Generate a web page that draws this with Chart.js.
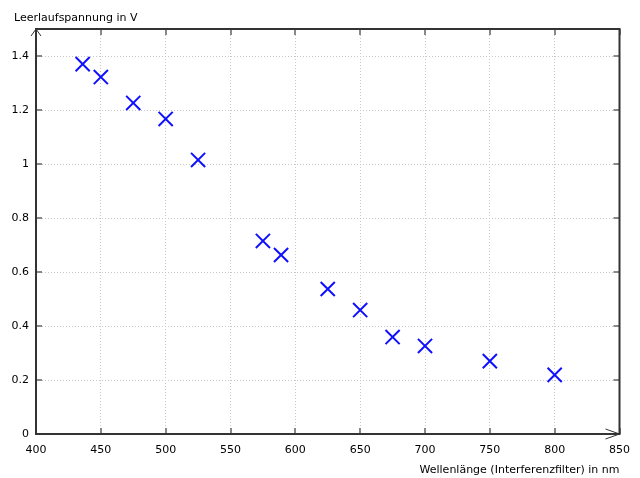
<!DOCTYPE html>
<html>
<head>
<meta charset="utf-8">
<script src="https://cdn.jsdelivr.net/npm/chart.js@4/dist/chart.umd.min.js"></script>
<style>
  html, body { margin: 0; padding: 0; background: #fff; }
  #wrap { width: 640px; height: 478px; }
</style>
</head>
<body>
<div id="wrap"><canvas id="chart"></canvas></div>
<script>
// Wellenlaenge in nm und Leerlaufspannung in V
var wavelengths = [436, 450, 475, 500, 525, 575, 589, 625, 650, 675, 700, 750, 800];
var voltages = [1.37, 1.322, 1.226, 1.167, 1.015, 0.715, 0.663, 0.537, 0.459, 0.359, 0.326, 0.27, 0.219];

var xTitle = 'Wellenlänge (Interferenzfilter) in nm';
var yTitle = 'Leerlaufspannung in V';

var points = [];
for (var i = 0; i < wavelengths.length; i++) {
	points.push({ x: wavelengths[i], y: voltages[i] });
}

var fontFamily = '"DejaVu Sans", sans-serif';

var frame = {
	id: 'frame',
	afterDraw: function(chart) {
		var ctx = chart.ctx;
		var a = chart.chartArea;
		var xs = chart.scales.x, ys = chart.scales.y;
		ctx.save();
		// tick marks inside the frame
		ctx.strokeStyle = '#888';
		ctx.lineWidth = 2;
		xs.ticks.forEach(function(t) {
			var px = Math.round(xs.getPixelForValue(t.value));
			ctx.beginPath();
			ctx.moveTo(px, a.bottom); ctx.lineTo(px, a.bottom - 6);
			ctx.moveTo(px, a.top); ctx.lineTo(px, a.top + 6);
			ctx.stroke();
		});
		ys.ticks.forEach(function(t) {
			var py = Math.round(ys.getPixelForValue(t.value));
			ctx.beginPath();
			ctx.moveTo(a.left, py); ctx.lineTo(a.left + 6, py);
			ctx.moveTo(a.right, py); ctx.lineTo(a.right - 6, py);
			ctx.stroke();
		});
		// frame
		ctx.strokeStyle = '#333';
		ctx.lineWidth = 2;
		ctx.strokeRect(a.left, a.top, a.right - a.left, a.bottom - a.top);
		// arrows
		ctx.lineWidth = 1;
		ctx.beginPath();
		ctx.moveTo(a.left - 5, a.top + 7); ctx.lineTo(a.left, a.top); ctx.lineTo(a.left + 5, a.top + 7);
		ctx.moveTo(a.right - 14, a.bottom - 5); ctx.lineTo(a.right, a.bottom); ctx.lineTo(a.right - 14, a.bottom + 5);
		ctx.stroke();
		// axis titles
		ctx.fillStyle = '#000';
		ctx.font = '11px ' + fontFamily;
		ctx.textBaseline = 'alphabetic';
		ctx.textAlign = 'left';
		ctx.fillText(yTitle, 14, 21);
		ctx.textAlign = 'right';
		ctx.fillText(xTitle, a.right, 473);
		ctx.restore();
	}
};

var ctx = document.getElementById('chart').getContext('2d');
var myChart = new Chart(ctx, {
	type: 'scatter',
	data: {
		datasets: [{
			label: 'Messwerte',
			data: points,
			pointStyle: 'crossRot',
			pointRadius: 10,
			pointHoverRadius: 10,
			borderColor: '#1010ff',
			backgroundColor: '#1010ff',
			pointBorderWidth: 2
		}]
	},
	options: {
		responsive: true,
		maintainAspectRatio: false,
		animation: false,
		layout: { padding: { top: 29, right: 20, left: 0, bottom: 0 } },
		plugins: {
			legend: { display: false },
			tooltip: { enabled: false }
		},
		scales: {
			x: {
				type: 'linear',
				min: 400,
				max: 850,
				ticks: {
					stepSize: 50,
					padding: 10,
					color: '#000',
					font: { family: fontFamily, size: 11 }
				},
				grid: {
					color: '#c8c8c8',
					drawTicks: false
				},
				border: { display: false, dash: [1, 2] },
				afterFit: function(s) { s.height = 44; }
			},
			y: {
				min: 0,
				max: 1.5,
				afterBuildTicks: function(s) {
					s.ticks = s.ticks.filter(function(t) { return t.value <= 1.4; });
				},
				ticks: {
					stepSize: 0.2,
					padding: 7,
					color: '#000',
					font: { family: fontFamily, size: 11 },
					callback: function(v) { return String(Math.round(v * 10) / 10); }
				},
				grid: {
					color: '#c8c8c8',
					drawTicks: false
				},
				border: { display: false, dash: [1, 2] },
				afterFit: function(s) { s.width = 36; }
			}
		}
	},
	plugins: [frame]
});
</script>
</body>
</html>
